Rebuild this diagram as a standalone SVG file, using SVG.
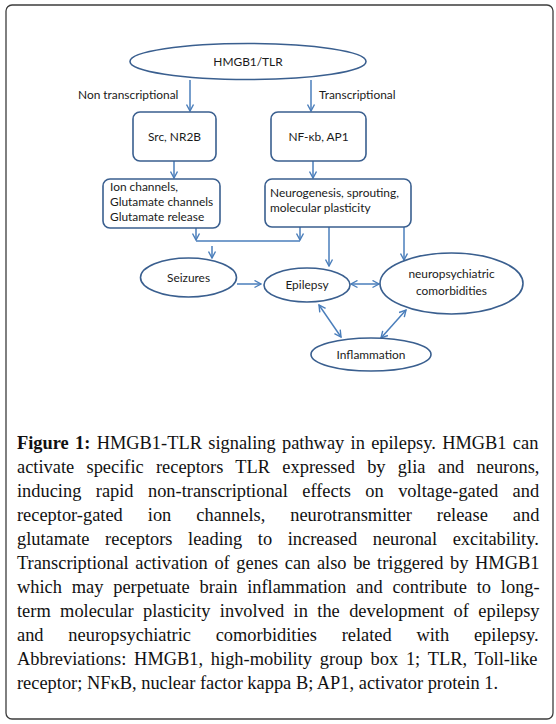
<svg xmlns="http://www.w3.org/2000/svg" width="556" height="724" viewBox="0 0 556 724">
<defs>
<style>
.node{fill:#fff;stroke:#3a5f8f;stroke-width:1.6}
.lbl{font-family:Lato,"Open Sans","DejaVu Sans",sans-serif;font-size:11.9px;fill:#1a1a1a}
.mid{text-anchor:middle}
.con{fill:none;stroke:#4a7ebb;stroke-width:1.5}
.cap{font-family:"Liberation Serif","Times New Roman",serif;font-size:18.4px;fill:#111}
</style>
<marker id="ah" markerUnits="userSpaceOnUse" markerWidth="9" markerHeight="9" viewBox="0 0 9 9" refX="8" refY="4.5" orient="auto-start-reverse">
<path d="M1.5,1 L8,4.5 L1.5,8" fill="none" stroke="#4a7ebb" stroke-width="1.4"/>
</marker>
</defs>
<rect x="6" y="5" width="547" height="714" rx="6" fill="#fff" stroke="#3c3c3c" stroke-width="1.3"/>

<g id="connectors">
<path class="con" d="M190,80 V111" marker-end="url(#ah)"/>
<path class="con" d="M311,80 V111" marker-end="url(#ah)"/>
<path class="con" d="M174,161 V178" marker-end="url(#ah)"/>
<path class="con" d="M313,161 V178" marker-end="url(#ah)"/>
<path class="con" d="M196,228 V240" marker-end="url(#ah)"/>
<path class="con" d="M300,227 V240" marker-end="url(#ah)"/>
<path class="con" d="M196,241 H300"/>
<path class="con" d="M212,246 V258" marker-end="url(#ah)"/>
<path class="con" d="M329,227 V266" marker-end="url(#ah)"/>
<path class="con" d="M404,227 V260" marker-end="url(#ah)"/>
<path class="con" d="M237,284 H261" marker-end="url(#ah)"/>
<path class="con" d="M351,284 H379" marker-start="url(#ah)" marker-end="url(#ah)"/>
<path class="con" d="M319,305 L341,337" marker-start="url(#ah)" marker-end="url(#ah)"/>
<path class="con" d="M381,338 L406,310" marker-start="url(#ah)" marker-end="url(#ah)"/>
</g>

<g id="hmgb1-tlr">
<ellipse class="node" cx="248" cy="61.5" rx="118" ry="18"/>
<text class="lbl mid" x="248" y="66">HMGB1/TLR</text>
</g>
<g id="label-nontranscriptional">
<text class="lbl" x="78" y="99">Non transcriptional</text>
</g>
<g id="label-transcriptional">
<text class="lbl" x="319" y="99">Transcriptional</text>
</g>
<g id="src-nr2b">
<rect class="node" x="133" y="112" width="83" height="49" rx="7"/>
<text class="lbl mid" x="174.5" y="141">Src, NR2B</text>
</g>
<g id="nfkb-ap1">
<rect class="node" x="271" y="112" width="95" height="49" rx="7"/>
<text class="lbl mid" x="318.5" y="141">NF-κb, AP1</text>
</g>
<g id="ion-channels">
<rect class="node" x="103" y="179" width="117" height="49" rx="7"/>
<text class="lbl" x="110" y="191">Ion channels,</text>
<text class="lbl" x="110" y="206">Glutamate channels</text>
<text class="lbl" x="110" y="221">Glutamate release</text>
</g>
<g id="neurogenesis">
<rect class="node" x="265" y="179" width="146" height="48" rx="7"/>
<text class="lbl" x="270" y="197">Neurogenesis, sprouting,</text>
<text class="lbl" x="270" y="212">molecular plasticity</text>
</g>
<g id="seizures">
<ellipse class="node" cx="188.5" cy="277.5" rx="48" ry="19.5"/>
<text class="lbl mid" x="188.5" y="282">Seizures</text>
</g>
<g id="epilepsy">
<ellipse class="node" cx="307" cy="285" rx="43" ry="17"/>
<text class="lbl mid" x="307" y="289">Epilepsy</text>
</g>
<g id="neuropsychiatric">
<ellipse class="node" cx="451.5" cy="283.5" rx="71.5" ry="30.5"/>
<text class="lbl mid" x="451.5" y="278">neuropsychiatric</text>
<text class="lbl mid" x="451.5" y="295">comorbidities</text>
</g>
<g id="inflammation">
<ellipse class="node" cx="371" cy="354.5" rx="60" ry="16.5"/>
<text class="lbl mid" x="371" y="359">Inflammation</text>
</g>

<g id="caption">
<text class="cap" x="17" y="449" word-spacing="1.7"><tspan font-weight="bold">Figure 1:</tspan> HMGB1-TLR signaling pathway in epilepsy. HMGB1 can</text>
<text class="cap" x="17" y="473" word-spacing="7.7">activate specific receptors TLR expressed by glia and neurons,</text>
<text class="cap" x="17" y="497" word-spacing="9.8">inducing rapid non-transcriptional effects on voltage-gated and</text>
<text class="cap" x="17" y="521" word-spacing="20.4">receptor-gated ion channels, neurotransmitter release and</text>
<text class="cap" x="17" y="545" word-spacing="11">glutamate receptors leading to increased neuronal excitability.</text>
<text class="cap" x="17" y="569" word-spacing="2">Transcriptional activation of genes can also be triggered by HMGB1</text>
<text class="cap" x="17" y="593" word-spacing="5.2">which may perpetuate brain inflammation and contribute to long-</text>
<text class="cap" x="17" y="617" word-spacing="4.8">term molecular plasticity involved in the development of epilepsy</text>
<text class="cap" x="17" y="641" word-spacing="20.2">and neuropsychiatric comorbidities related with epilepsy.</text>
<text class="cap" x="17" y="665" word-spacing="3.2">Abbreviations: HMGB1, high-mobility group box 1; TLR, Toll-like</text>
<text class="cap" x="17" y="689">receptor; NFκB, nuclear factor kappa B; AP1, activator protein 1.</text>
</g>
</svg>
